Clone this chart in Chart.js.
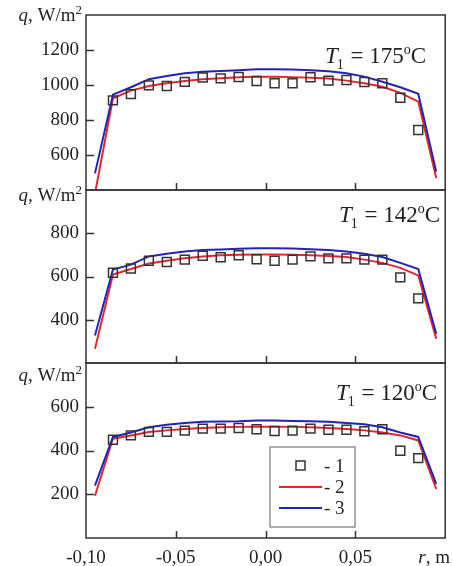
<!DOCTYPE html>
<html>
<head>
  <title>Heat flux profiles</title>
  <script src="https://cdn.jsdelivr.net/npm/chart.js"></script>
  <style>
    body { margin: 0; background: #fff; }
    #wrap { position: relative; width: 453px; height: 566px; }
    canvas { position: absolute; left: 0; }
  </style>
</head>
<body>
  <div id="wrap">
    <canvas id="c1" width="453" height="200" style="top:0px"></canvas>
    <canvas id="c2" width="453" height="193" style="top:180px"></canvas>
    <canvas id="c3" width="453" height="213" style="top:353px"></canvas>
  </div>

  <script>
    // radial positions (m)
    const rExp = [-0.085, -0.075, -0.065, -0.055, -0.045, -0.035, -0.025, -0.015, -0.005,
                  0.005, 0.015, 0.025, 0.035, 0.045, 0.055, 0.065, 0.075, 0.085];
    const rCalc = [-0.095, -0.085, -0.075, -0.065, -0.055, -0.045, -0.035, -0.025, -0.015, -0.005,
                   0.005, 0.015, 0.025, 0.035, 0.045, 0.055, 0.065, 0.075, 0.085, 0.095];

    // T1 = 175 C
    const exp175 = [912, 948, 998, 994, 1018, 1043, 1038, 1046, 1023, 1010, 1010, 1044, 1025, 1029, 1017, 1010, 927, 743];
    const red175 = [380, 924, 968, 994, 1010, 1023, 1033, 1038, 1044, 1047, 1047, 1045, 1042, 1037, 1025, 1010, 990, 955, 905, 468];
    const blue175 = [495, 945, 987, 1033, 1051, 1067, 1076, 1080, 1084, 1090, 1090, 1088, 1084, 1078, 1067, 1048, 1019, 987, 950, 505];

    // T1 = 142 C
    const exp142 = [617, 637, 673, 667, 678, 696, 689, 698, 680, 673, 678, 693, 684, 684, 678, 678, 596, 499];
    const red142 = [266, 609, 635, 660, 673, 684, 693, 698, 701, 702, 702, 701, 698, 695, 690, 678, 663, 640, 605, 312];
    const blue142 = [327, 632, 655, 693, 705, 716, 722, 725, 728, 731, 731, 729, 726, 722, 716, 705, 690, 663, 635, 335];

    // T1 = 120 C
    const exp120 = [449, 469, 485, 485, 491, 500, 500, 503, 497, 489, 491, 500, 495, 495, 488, 497, 399, 365];
    const red120 = [193, 454, 469, 485, 492, 498, 503, 506, 508, 509, 509, 508, 506, 503, 498, 492, 482, 469, 446, 224];
    const blue120 = [239, 462, 482, 506, 518, 526, 531, 533, 534, 537, 537, 535, 534, 531, 526, 520, 506, 482, 462, 247];

    const xTicks = [-0.05, 0, 0.05];
    const serif = "'Liberation Serif', 'DejaVu Serif', serif";
    const ink = '#333';

    function pts(xs, ys) {
      return xs.map((x, i) => ({ x: x, y: ys[i] }));
    }

    // draws the frame, inward ticks and the text labels
    const framePlugin = {
      id: 'frame',
      afterDraw(chart, args, opts) {
        const ctx = chart.ctx;
        const a = chart.chartArea;
        const xs = chart.scales.x, ys = chart.scales.y;
        ctx.save();
        ctx.strokeStyle = ink;
        ctx.lineWidth = 1.5;
        ctx.strokeRect(a.left, a.top, a.right - a.left, a.bottom - a.top);

        ctx.beginPath();
        xTicks.forEach(v => {
          const px = Math.round(xs.getPixelForValue(v)) + 0.5;
          ctx.moveTo(px, a.bottom);
          ctx.lineTo(px, a.bottom - 7);
        });
        opts.yTicks.forEach(v => {
          const py = Math.round(ys.getPixelForValue(v)) + 0.5;
          ctx.moveTo(a.left, py);
          ctx.lineTo(a.left + 8, py);
        });
        ctx.stroke();

        ctx.fillStyle = '#222';
        ctx.textBaseline = 'alphabetic';

        // axis title q, W/m2
        let y = a.top + opts.qDy;
        ctx.textAlign = 'left';
        const rest = ', W/m';
        ctx.font = 'italic 19px ' + serif;
        const wq = ctx.measureText('q').width;
        ctx.font = '19px ' + serif;
        const wr = ctx.measureText(rest).width;
        ctx.font = '13px ' + serif;
        const w2 = ctx.measureText('2').width;
        let x0 = 82 - (wq + wr + w2);
        ctx.font = 'italic 19px ' + serif;
        ctx.fillText('q', x0, y);
        ctx.font = '19px ' + serif;
        ctx.fillText(rest, x0 + wq, y);
        ctx.font = '13px ' + serif;
        ctx.fillText('2', x0 + wq + wr, y - 7);

        // temperature label
        let tx = opts.tx, ty = a.top + opts.tDy;
        ctx.font = 'italic 23px ' + serif;
        ctx.fillText('T', tx, ty);
        tx += ctx.measureText('T').width;
        ctx.font = '14px ' + serif;
        ctx.fillText('1', tx - 1, ty + 6);
        tx += ctx.measureText('1').width;
        ctx.font = '23px ' + serif;
        const s = ' = ' + opts.temp;
        ctx.fillText(s, tx, ty);
        tx += ctx.measureText(s).width;
        ctx.font = '14px ' + serif;
        ctx.fillText('o', tx, ty - 9);
        tx += ctx.measureText('o').width;
        ctx.font = '23px ' + serif;
        ctx.fillText('C', tx, ty);

        if (opts.axisR) {
          ctx.textAlign = 'right';
          ctx.font = '19px ' + serif;
          const wm = ctx.measureText(', m').width;
          ctx.fillText(', m', 450, a.bottom + 25);
          ctx.font = 'italic 19px ' + serif;
          ctx.fillText('r', 450 - wm, a.bottom + 25);
        }

        if (opts.legend) {
          const lx = 270, ly = a.top + 84, lw = 85, lh = 80;
          ctx.fillStyle = '#fff';
          ctx.fillRect(lx, ly, lw, lh);
          ctx.strokeStyle = '#777';
          ctx.lineWidth = 1.2;
          ctx.strokeRect(lx, ly, lw, lh);
          ctx.strokeStyle = ink;
          ctx.lineWidth = 1.5;
          ctx.strokeRect(296, ly + 14, 9, 9);
          ctx.lineWidth = 2.2;
          ctx.strokeStyle = '#e3262b';
          ctx.beginPath(); ctx.moveTo(279, ly + 40); ctx.lineTo(322, ly + 40); ctx.stroke();
          ctx.strokeStyle = '#2424b4';
          ctx.beginPath(); ctx.moveTo(279, ly + 61); ctx.lineTo(322, ly + 61); ctx.stroke();
          ctx.fillStyle = '#222';
          ctx.textAlign = 'left';
          ctx.font = '19px ' + serif;
          ctx.fillText('- 1', 324, ly + 25);
          ctx.fillText('- 2', 324, ly + 46);
          ctx.fillText('- 3', 324, ly + 67);
        }
        ctx.restore();
      }
    };

    function makeChart(id, exp, red, blue, yMin, yMax, pad, frame, showX) {
      return new Chart(document.getElementById(id), {
        type: 'line',
        data: {
          datasets: [
            {
              label: '1',
              data: pts(rExp, exp),
              showLine: false,
              pointStyle: 'rect',
              pointRadius: 6.3,
              pointBorderWidth: 1.5,
              borderColor: ink,
              backgroundColor: 'rgba(0,0,0,0)',
              order: 0,
            },
            {
              label: '2',
              data: pts(rCalc, red),
              borderColor: '#e3262b',
              borderWidth: 2,
              pointRadius: 0,
              tension: 0,
              fill: false,
              order: 2,
            },
            {
              label: '3',
              data: pts(rCalc, blue),
              borderColor: '#2424b4',
              borderWidth: 2,
              pointRadius: 0,
              tension: 0,
              fill: false,
              order: 1,
            },
          ],
        },
        options: {
          responsive: false,
          animation: false,
          layout: { padding: pad },
          plugins: { legend: { display: false }, tooltip: { enabled: false }, frame: frame },
          scales: {
            x: {
              type: 'linear',
              min: -0.1,
              max: 0.1,
              display: showX,
              grid: { display: false, drawTicks: false },
              border: { display: false },
              afterFit: s => {
                s.height = showX ? 28 : 0;
                s.paddingLeft = 0; s.paddingRight = 0;
              },
              ticks: {
                stepSize: 0.05,
                autoSkip: false,
                maxRotation: 0,
                padding: 9,
                color: '#222',
                font: { family: serif, size: 19 },
                callback: v => (v > 0.09 ? '' : v.toFixed(2).replace('.', ',')),
              },
            },
            y: {
              min: yMin,
              max: yMax,
              grid: { display: false, drawTicks: false },
              border: { display: false },
              afterFit: s => {
                s.width = 86;
                s.paddingTop = 0; s.paddingBottom = 0;
              },
              ticks: {
                stepSize: 200,
                padding: 7,
                color: '#222',
                font: { family: serif, size: 19 },
                callback: v => (v === yMin || v === yMax ? '' : v),
              },
            },
          },
        },
        plugins: [framePlugin],
      });
    }

    makeChart('c1', exp175, red175, blue175, 400, 1400,
      { left: 0, right: 3, top: 15, bottom: 10 },
      { yTicks: [600, 800, 1000, 1200], qDy: 6, tx: 325, tDy: 48, temp: '175' }, false);

    makeChart('c2', exp142, red142, blue142, 200, 1000,
      { left: 0, right: 3, top: 10, bottom: 10 },
      { yTicks: [400, 600, 800], qDy: 11, tx: 339, tDy: 32, temp: '142' }, false);

    makeChart('c3', exp120, red120, blue120, 0, 800,
      { left: 0, right: 3, top: 10, bottom: 0 },
      { yTicks: [200, 400, 600], qDy: 18, tx: 336, tDy: 37, temp: '120', axisR: true, legend: true }, true);
  </script>
</body>
</html>
